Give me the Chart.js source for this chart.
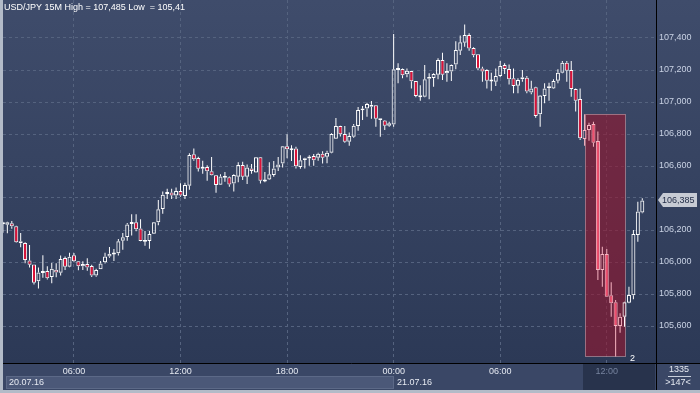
<!DOCTYPE html>
<html><head><meta charset="utf-8">
<script src="https://cdn.jsdelivr.net/npm/chart.js@4.4.1/dist/chart.umd.min.js"></script>
<style>html,body{margin:0;padding:0;background:#2f3c59;overflow:hidden}canvas{display:block}</style>
</head><body>
<canvas id="c" width="700" height="393"></canvas>
<script>
const symbol = 'USD/JPY';
const period = '15M';
const firstBarMinutes = 2 * 60;   // first bar 02:00 on 20.07.16
const barMinutes = 15;
const dateLabels = ['20.07.16', '21.07.16'];

const open = [106.240,106.233,106.242,106.223,106.117,106.119,106.010,105.985,105.879,105.933,
105.944,105.906,105.952,105.933,106.025,105.971,106.042,106.004,105.973,105.988,
105.975,105.915,105.954,105.998,106.035,106.052,106.054,106.133,106.156,106.240,
106.248,106.210,106.131,106.131,106.177,106.248,106.331,106.427,106.435,106.415,
106.444,106.413,106.477,106.673,106.650,106.585,106.594,106.567,106.542,106.483,
106.529,106.529,106.490,106.533,106.606,106.533,106.585,106.560,106.654,106.508,
106.515,106.544,106.590,106.615,106.723,106.706,106.710,106.594,106.638,106.648,
106.663,106.652,106.677,106.658,106.683,106.771,106.850,106.800,106.752,106.783,
106.850,106.950,106.960,106.983,106.979,106.888,106.885,106.852,106.860,107.204,
107.206,107.173,107.194,107.131,107.031,107.033,107.146,107.150,107.171,107.263,
107.179,107.190,107.235,107.321,107.371,107.419,107.338,107.298,107.210,107.200,
107.131,107.127,107.163,107.231,107.206,107.148,107.102,107.142,107.152,107.060,
107.092,106.923,107.038,107.090,107.085,107.133,107.183,107.246,107.200,107.081,
107.019,106.769,106.825,106.863,106.756,105.950,106.050,105.792,105.748,105.600,
105.658,105.746,105.792,106.169,106.310];
const high = [106.252,106.252,106.256,106.226,106.181,106.123,106.106,105.985,105.965,106.042,
105.973,105.994,105.992,106.040,106.035,106.058,106.056,106.006,106.004,106.023,
105.983,105.958,106.006,106.058,106.094,106.081,106.144,106.181,106.244,106.298,
106.298,106.267,106.194,106.194,106.250,106.388,106.440,106.458,106.458,106.465,
106.492,106.496,106.679,106.710,106.658,106.633,106.604,106.656,106.544,106.548,
106.563,106.535,106.548,106.623,106.627,106.610,106.613,106.656,106.656,106.563,
106.623,106.631,106.656,106.725,106.798,106.729,106.721,106.667,106.652,106.667,
106.675,106.683,106.692,106.696,106.804,106.900,106.852,106.850,106.810,106.863,
106.969,106.975,106.996,107.006,106.979,106.898,106.888,106.877,107.425,107.242,
107.210,107.210,107.194,107.131,107.104,107.231,107.179,107.179,107.273,107.308,
107.242,107.235,107.379,107.415,107.485,107.429,107.342,107.298,107.221,107.204,
107.183,107.210,107.256,107.242,107.235,107.210,107.148,107.200,107.163,107.133,
107.096,107.044,107.117,107.121,107.142,107.204,107.256,107.256,107.256,107.085,
107.085,106.923,106.871,106.877,106.815,106.096,106.081,105.873,105.763,105.679,
105.752,105.846,106.200,106.377,106.398];
const low = [106.183,106.179,106.208,106.120,106.092,105.992,105.965,105.860,105.835,105.902,
105.890,105.867,105.904,105.915,105.950,105.967,105.998,105.948,105.950,105.946,
105.906,105.908,105.954,105.990,106.027,106.006,106.040,106.077,106.133,106.165,
106.192,106.129,106.102,106.083,106.175,106.229,106.302,106.394,106.394,106.394,
106.408,106.394,106.452,106.633,106.565,106.552,106.508,106.540,106.433,106.481,
106.502,106.471,106.440,106.498,106.513,106.488,106.552,106.558,106.490,106.498,
106.513,106.533,106.569,106.590,106.648,106.631,106.585,106.583,106.585,106.602,
106.602,106.633,106.615,106.617,106.679,106.769,106.785,106.746,106.727,106.777,
106.821,106.888,106.908,106.896,106.846,106.783,106.825,106.846,106.846,107.117,
107.148,107.154,107.085,107.029,107.008,107.029,107.017,107.096,107.142,107.138,
107.127,107.131,107.204,107.294,107.346,107.321,107.279,107.200,107.127,107.085,
107.071,107.100,107.154,107.175,107.110,107.054,107.054,107.127,107.054,107.048,
106.902,106.846,106.992,107.008,107.081,107.117,107.179,107.127,107.033,106.940,
106.763,106.727,106.758,106.721,105.888,105.846,105.783,105.658,105.410,105.558,
105.596,105.742,105.767,106.127,106.304];
const close = [106.245,106.248,106.223,106.123,106.129,106.012,105.983,105.871,105.935,105.942,
105.898,105.958,105.935,106.019,105.971,106.033,106.004,105.973,105.988,105.965,
105.915,105.950,105.990,106.035,106.052,106.054,106.129,106.154,106.235,106.248,
106.204,106.131,106.133,106.175,106.248,106.329,106.421,106.435,106.415,106.444,
106.415,106.481,106.669,106.642,106.583,106.592,106.567,106.542,106.481,106.535,
106.535,106.485,106.544,106.606,106.533,106.590,106.569,106.654,106.508,106.510,
106.548,106.585,106.610,106.723,106.704,106.704,106.598,106.636,106.648,106.658,
106.636,106.677,106.652,106.683,106.800,106.850,106.798,106.752,106.788,106.852,
106.950,106.958,106.988,106.971,106.896,106.898,106.852,106.867,107.204,107.208,
107.167,107.196,107.129,107.038,107.040,107.142,107.156,107.175,107.263,107.171,
107.194,107.231,107.325,107.373,107.419,107.335,107.292,107.210,107.190,107.133,
107.138,107.163,107.225,107.206,107.142,107.100,107.138,107.154,107.065,107.085,
106.913,107.040,107.085,107.096,107.131,107.183,107.246,107.196,107.081,107.008,
106.773,106.825,106.856,106.746,105.950,106.050,105.783,105.742,105.600,105.658,
105.748,105.794,106.175,106.315,106.385];

const yTickValues = [105.6,105.8,106.0,106.2,106.4,106.6,106.8,107.0,107.2,107.4];
const selection = [131, 140];      // highlighted bar range
const selectionLabel = '2';
const footerTop = '1335';
const footerBottom = '>147<';

// ---- derived ----
const nBars = open.length;
const barTimes = open.map((_, i) => {
  const m = (firstBarMinutes + i * barMinutes) % 1440;
  return String(Math.floor(m / 60)).padStart(2, '0') + ':' + String(m % 60).padStart(2, '0');
});
const xTickIdx = barTimes.map((t, i) => ((firstBarMinutes + i * barMinutes) % 360 === 0 ? i : -1)).filter(i => i >= 0);
const dayStartIdx = [0].concat(barTimes.map((t, i) => (t === '00:00' ? i : -1)).filter(i => i > 0));
const hiMax = Math.max(...high), loMin = Math.min(...low);
const lastClose = close[nBars - 1];
const fmt = v => String(+v.toFixed(3)).replace('.', ',');
const fmt3 = v => v.toFixed(3).replace('.', ',');

const inSel = i => i >= selection[0] && i < selection[1];
const WHITE = '#ffffff', RED = '#dc1238', PINK = '#f6b4c1', PINKRED = '#f0506f';

const bodyData = [], upWick = [], loWick = [];
for (let i = 0; i < nBars; i++) {
  let a = Math.min(open[i], close[i]), b = Math.max(open[i], close[i]);
  upWick.push({x: i, y: [b, high[i]]});
  loWick.push({x: i, y: [low[i], a]});
  if (b - a < 0.012) { const m = (a + b) / 2; a = m - 0.006; b = m + 0.006; }
  bodyData.push({x: i, y: [a, b]});
}
const isUp = i => close[i] >= open[i];
const wickColor = ctx => inSel(ctx.dataIndex) ? PINK : WHITE;

const FONT = '"Liberation Sans", Arial, sans-serif';
Chart.defaults.font.family = FONT;
Chart.defaults.font.size = 9;

const GRID = '#55637f';
const noPad = s => { s.paddingTop = 0; s.paddingBottom = 0; s.paddingLeft = 0; s.paddingRight = 0; };

const plugin = {
  id: 'deco',
  beforeDraw(chart) {
    const {ctx, chartArea: a, width, height} = chart;
    const xs = chart.scales.x;
    ctx.save();
    const g = ctx.createLinearGradient(0, 0, 0, a.bottom);
    g.addColorStop(0, '#3f4c6b');
    g.addColorStop(1, '#2c3956');
    ctx.fillStyle = g;
    ctx.fillRect(0, 0, width, a.bottom);
    // bottom band
    ctx.fillStyle = '#3a4766';
    ctx.fillRect(0, a.bottom, width, height - a.bottom);
    // date box for first day
    const d1 = Math.round(xs.getPixelForValue(dayStartIdx[1]));
    ctx.fillStyle = '#4b5878';
    ctx.fillRect(6, 376, d1 - 6, 13);
    ctx.strokeStyle = '#5c6987';
    ctx.lineWidth = 1;
    ctx.strokeRect(6.5, 376.5, d1 - 7, 12);
    // selection band in time axis
    const s0 = Math.round(xs.getPixelForValue(selection[0]) - 2);
    ctx.fillStyle = '#28334c';
    ctx.fillRect(s0, a.bottom + 1, a.right - s0 - 1, 26);
    // frame strips
    ctx.fillStyle = '#b3bbc8';
    ctx.fillRect(0, 0, 3, height);
    ctx.fillRect(0, height - 3, width, 3);
    ctx.restore();
  },
  beforeDatasetsDraw(chart) {
    const {ctx} = chart;
    const xs = chart.scales.x, ys = chart.scales.y;
    let hh = -Infinity, ll = Infinity;
    for (let i = selection[0]; i <= selection[1]; i++) { hh = Math.max(hh, high[i]); ll = Math.min(ll, low[i]); }
    const x0 = Math.round(xs.getPixelForValue(selection[0])), x1 = Math.round(xs.getPixelForValue(selection[1]));
    const y0 = Math.round(ys.getPixelForValue(hh)), y1 = Math.round(ys.getPixelForValue(ll));
    ctx.save();
    ctx.fillStyle = 'rgba(150,22,45,0.6)';
    ctx.fillRect(x0, y0, x1 - x0, y1 - y0);
    ctx.strokeStyle = 'rgba(170,130,145,0.8)';
    ctx.lineWidth = 1;
    ctx.strokeRect(x0 + 0.5, y0 + 0.5, x1 - x0, y1 - y0);
    ctx.fillStyle = '#ffffff';
    ctx.font = '9px ' + FONT;
    ctx.textBaseline = 'middle';
    ctx.fillText(selectionLabel, x1 + 5, y1 + 3);
    ctx.restore();
  },
  afterDraw(chart) {
    const {ctx, chartArea: a, width, height} = chart;
    const xs = chart.scales.x, ys = chart.scales.y;
    ctx.save();
    ctx.font = '9px ' + FONT;
    ctx.textBaseline = 'middle';
    // title
    ctx.fillStyle = '#ffffff';
    ctx.fillText(symbol + ' ' + period + ' High = ' + fmt(hiMax) + ' Low  = ' + fmt(loMin), 4, 8);
    // separators
    ctx.strokeStyle = '#000000';
    ctx.lineWidth = 1;
    ctx.beginPath();
    ctx.moveTo(3, a.bottom + 0.5); ctx.lineTo(width, a.bottom + 0.5);
    ctx.moveTo(a.right + 0.5, 0); ctx.lineTo(a.right + 0.5, height - 3);
    ctx.stroke();
    // date labels
    ctx.fillStyle = '#e6eaf2';
    dayStartIdx.forEach((idx, k) => {
      const x = k === 0 ? 9 : Math.round(xs.getPixelForValue(idx)) + 3;
      ctx.fillText(dateLabels[k], x, 383);
    });
    // right footer
    ctx.textAlign = 'center';
    ctx.fillText(footerTop, 679, 370);
    ctx.fillText(footerBottom, 678, 383);
    ctx.strokeStyle = '#c8cfdc';
    ctx.beginPath(); ctx.moveTo(668, 376.5); ctx.lineTo(691, 376.5); ctx.stroke();
    // current price label
    const py = Math.round(ys.getPixelForValue(lastClose));
    ctx.fillStyle = '#c7cbd4';
    ctx.beginPath();
    ctx.moveTo(a.right + 2, py);
    ctx.lineTo(a.right + 7, py - 7);
    ctx.lineTo(a.right + 41, py - 7);
    ctx.lineTo(a.right + 41, py + 7);
    ctx.lineTo(a.right + 7, py + 7);
    ctx.closePath();
    ctx.fill();
    ctx.fillStyle = '#1f2a44';
    ctx.textAlign = 'left';
    ctx.fillText(fmt3(lastClose), a.right + 6, py + 0.5);
    ctx.restore();
  }
};

new Chart(document.getElementById('c'), {
  type: 'bar',
  data: {
    datasets: [
      {data: upWick, grouped: false, barThickness: 1, backgroundColor: wickColor, borderWidth: 0, inflateAmount: 0, clip: 0},
      {data: loWick, grouped: false, barThickness: 1, backgroundColor: wickColor, borderWidth: 0, inflateAmount: 0, clip: 0},
      {data: bodyData, grouped: false, barThickness: 4, borderWidth: 1, borderSkipped: false, inflateAmount: 0, clip: 0,
        borderColor: ctx => inSel(ctx.dataIndex) ? PINK : WHITE,
        backgroundColor: ctx => isUp(ctx.dataIndex) ? 'rgba(0,0,0,0)' : (inSel(ctx.dataIndex) ? PINKRED : RED)}
    ]
  },
  options: {
    responsive: false,
    animation: false,
    events: [],
    layout: {padding: {left: 3, right: 0, top: 0, bottom: 3}},
    plugins: {legend: {display: false}, tooltip: {enabled: false}, title: {display: false}},
    scales: {
      x: {
        type: 'linear', position: 'bottom', min: 0.02, max: 147.09, offset: false,
        afterFit: s => { s.height = 27; noPad(s); },
        afterBuildTicks: s => { s.ticks = xTickIdx.map(v => ({value: v})); },
        grid: {color: GRID, drawTicks: false, lineWidth: 1, offset: false},
        border: {display: false, dash: [3, 3]},
        ticks: {
          autoSkip: false, maxRotation: 0, padding: 3,
          color: ctx => (ctx.tick && inSel(ctx.tick.value)) ? '#76839e' : '#e6eaf2',
          callback: v => barTimes[v] || ''
        }
      },
      y: {
        type: 'linear', position: 'right', min: 105.36875, max: 107.6375,
        afterFit: s => { s.width = 44; noPad(s); },
        afterBuildTicks: s => { s.ticks = yTickValues.map(v => ({value: v})); },
        grid: {color: GRID, drawTicks: false, lineWidth: 1},
        border: {display: false, dash: [3, 3]},
        ticks: {
          padding: 3, color: '#c9d2e4',
          callback: v => Math.abs(v - lastClose) < 0.06 ? '' : fmt3(v)
        }
      }
    }
  },
  plugins: [plugin]
});
</script>
</body></html>
